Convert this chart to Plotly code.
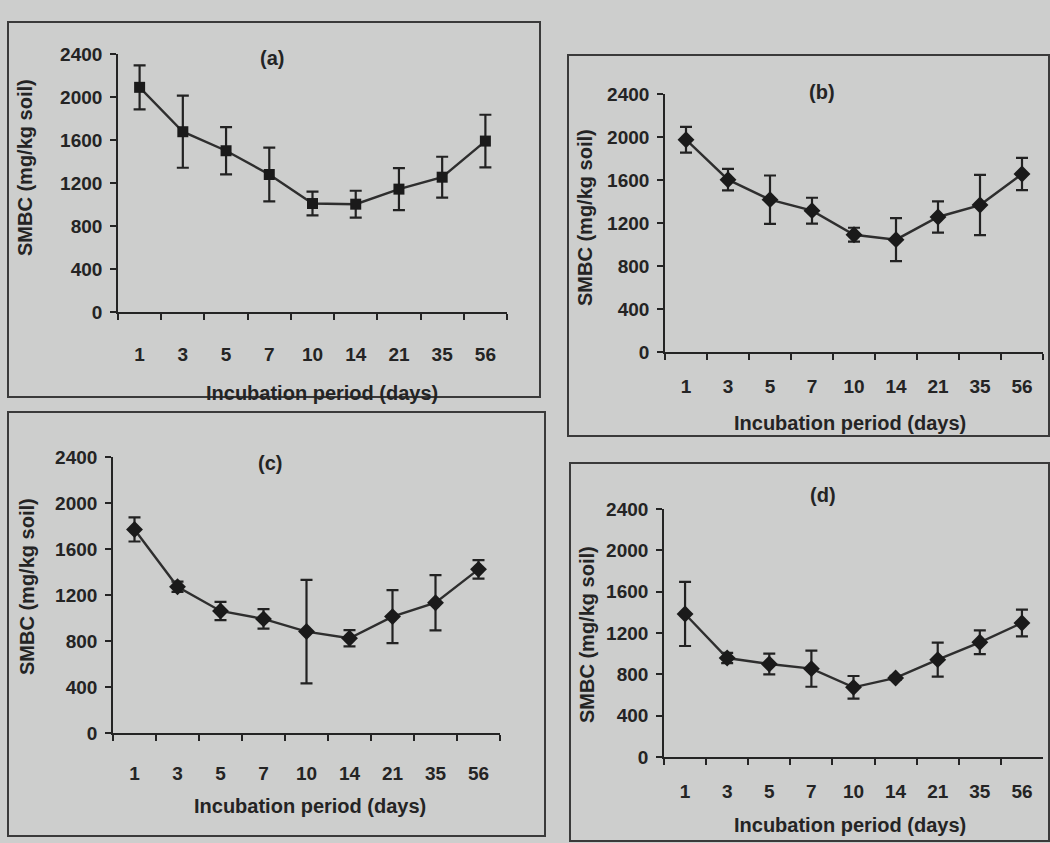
import plotly.graph_objects as go

days = ["1", "3", "5", "7", "10", "14", "21", "35", "56"]
y_ticks = [0, 400, 800, 1200, 1600, 2000, 2400]

smbc_a = [2090, 1677, 1500, 1279, 1009, 1003, 1143, 1254, 1590]
err_a = [205, 335, 220, 250, 110, 125, 195, 190, 245]

smbc_b = [1975, 1603, 1417, 1315, 1091, 1045, 1256, 1367, 1656]
err_b = [120, 100, 225, 120, 65, 200, 145, 280, 150]

smbc_c = [1770, 1272, 1061, 992, 882, 824, 1012, 1133, 1423]
err_c = [105, 45, 80, 85, 450, 70, 230, 240, 80]

smbc_d = [1384, 958, 900, 855, 674, 765, 942, 1110, 1297]
err_d = [310, 50, 100, 175, 110, 20, 165, 115, 130]

panel_labels = ["(a)", "(b)", "(c)", "(d)"]
x_title = "Incubation period (days)"
y_title = "SMBC (mg/kg soil)"

W, H = 1050, 843
BG = "#cdcecd"
INK = "#242424"
FONT = "Liberation Sans, Arial, sans-serif"

# pixel layout of each panel: plot area (x0, x1, ytop, ybottom), box, label positions
panels = [
    dict(y=smbc_a, e=err_a, sym="square", msize=11, so=24,
         area=(118, 507, 54, 312), box=(8, 540, 22, 397),
         lab=(272, 58), xt=(322, 393), yt=(25, 168)),
    dict(y=smbc_b, e=err_b, sym="diamond", msize=13, so=16,
         area=(665, 1043, 94, 352), box=(568, 1049, 55, 436),
         lab=(822, 92), xt=(850, 423), yt=(585, 218)),
    dict(y=smbc_c, e=err_c, sym="diamond", msize=13, so=22,
         area=(113, 500, 457, 733), box=(8, 545, 412, 836),
         lab=(270, 463), xt=(310, 806), yt=(27, 587)),
    dict(y=smbc_d, e=err_d, sym="diamond", msize=13, so=16,
         area=(664, 1043, 509, 757), box=(570, 1049, 463, 841),
         lab=(823, 495), xt=(850, 825), yt=(587, 635)),
]

fig = go.Figure()
shapes = []
annotations = []

for i, p in enumerate(panels):
    n = i + 1
    xa = "x" if n == 1 else f"x{n}"
    ya = "y" if n == 1 else f"y{n}"
    fig.add_trace(go.Scatter(
        x=days, y=p["y"], xaxis=xa, yaxis=ya, mode="lines+markers",
        line=dict(color="#2e2e2e", width=2.4),
        marker=dict(symbol=p["sym"], size=p["msize"], color="#1a1a1a"),
        error_y=dict(type="data", array=p["e"], visible=True,
                     color="#222222", thickness=2.2, width=6),
        showlegend=False,
    ))
    x0, x1, yt, yb = p["area"]
    xkey = "xaxis" if n == 1 else f"xaxis{n}"
    ykey = "yaxis" if n == 1 else f"yaxis{n}"
    fig.update_layout(**{
        xkey: dict(
            domain=[x0 / W, x1 / W], anchor=ya, type="category",
            categoryorder="array", categoryarray=days,
            range=[-0.5, len(days) - 0.5], automargin=False,
            showgrid=False, zeroline=False, showline=True,
            linecolor=INK, linewidth=2, ticks="outside", tickson="boundaries",
            ticklen=6, tickwidth=2, tickcolor=INK, ticklabelstandoff=p["so"],
            tickfont=dict(family=FONT, size=19, color=INK, weight="bold"),
        ),
        ykey: dict(
            domain=[1 - yb / H, 1 - yt / H], anchor=xa, range=[0, 2400],
            tickvals=y_ticks, ticktext=[str(v) for v in y_ticks],
            automargin=False,
            showgrid=False, zeroline=False, showline=True,
            linecolor=INK, linewidth=1.6, ticks="outside", ticklen=6,
            tickwidth=1.6, tickcolor=INK, ticklabelstandoff=4,
            tickfont=dict(family=FONT, size=19, color=INK, weight="bold"),
        ),
    })
    bx0, bx1, by0, by1 = p["box"]
    shapes.append(dict(type="rect", xref="paper", yref="paper",
                       x0=bx0 / W, x1=bx1 / W, y0=1 - by1 / H, y1=1 - by0 / H,
                       line=dict(color="#3a3a3a", width=2), layer="below"))
    lx, ly = p["lab"]
    annotations.append(dict(text=panel_labels[i], xref="paper", yref="paper",
                            x=lx / W, y=1 - ly / H, showarrow=False,
                            xanchor="center", yanchor="middle",
                            font=dict(family=FONT, size=20, color=INK, weight="bold")))
    tx, ty = p["xt"]
    annotations.append(dict(text=x_title, xref="paper", yref="paper",
                            x=tx / W, y=1 - ty / H, showarrow=False,
                            xanchor="center", yanchor="middle",
                            font=dict(family=FONT, size=20, color=INK, weight="bold")))
    sx, sy = p["yt"]
    annotations.append(dict(text=y_title, xref="paper", yref="paper",
                            x=sx / W, y=1 - sy / H, showarrow=False, textangle=-90,
                            xanchor="center", yanchor="middle",
                            font=dict(family=FONT, size=20, color=INK, weight="bold")))

fig.update_layout(
    width=W, height=H, margin=dict(l=0, r=0, t=0, b=0, pad=0, autoexpand=False),
    paper_bgcolor=BG, plot_bgcolor=BG,
    shapes=shapes, annotations=annotations,
)

fig.write_html(
    "out.html",
    config={"displayModeBar": False},
    post_script="document.body.style.margin='0';document.body.style.overflow='hidden';",
)
